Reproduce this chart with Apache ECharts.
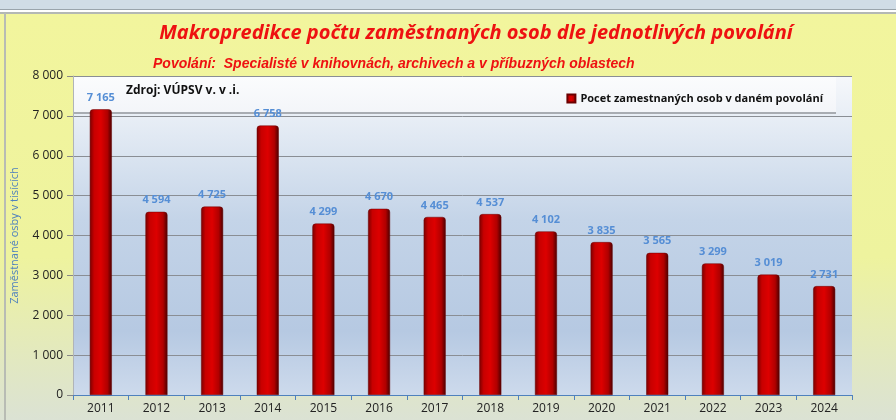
<!DOCTYPE html>
<html>
<head>
<meta charset="utf-8">
<script src="https://cdn.jsdelivr.net/npm/echarts@6/dist/echarts.min.js"></script>
<style>
html,body{margin:0;padding:0;}
#main{width:896px;height:420px;}
</style>
</head>
<body>
<div id="main"></div>
<script>
var years = ['2011','2012','2013','2014','2015','2016','2017','2018','2019','2020','2021','2022','2023','2024'];
var counts = [7165,4594,4725,6758,4299,4670,4465,4537,4102,3835,3565,3299,3019,2731];
var seriesName = 'Pocet zamestnaných osob v daném povolání';

function fmt(v){
	return String(v).replace(/\B(?=(\d{3})+(?!\d))/g,' ');
}

var chart = echarts.init(document.getElementById('main'));
chart.setOption({
	backgroundColor: '#ffffff',
	graphic: [
		// top window strip
		{type:'rect', z:-10, shape:{x:0,y:0,width:896,height:9}, style:{fill:'#d0dce6'}},
		{type:'rect', z:-10, shape:{x:0,y:9,width:896,height:1}, style:{fill:'#9aa4ac'}},
		{type:'rect', z:-10, shape:{x:0,y:13,width:896,height:407},
			style:{fill:new echarts.graphic.LinearGradient(0,0,0,1,[
				{offset:0,color:'#f2f59d'},{offset:0.6,color:'#eef39e'},{offset:1,color:'#dbe2d4'}])}},
		{type:'rect', z:-10, shape:{x:0,y:12,width:896,height:2}, style:{fill:'#b4b8b4'}},
		{type:'rect', z:-10, shape:{x:4,y:13,width:2,height:407}, style:{fill:'#b8bcb4'}},
		// legend panel
		{type:'rect', z:1, shape:{x:74,y:77,width:762,height:36},
			style:{fill:new echarts.graphic.LinearGradient(0,0,0,1,[
				{offset:0,color:'#fbfcfd'},{offset:1,color:'#f3f5f9'}])}},
		{type:'rect', z:1, shape:{x:74,y:112,width:762,height:2}, style:{fill:'#a8acb2'}},
		{type:'text', z:5, left:126, top:85,
			style:{text:'Zdroj: VÚPSV v. v .i.', fill:'#111', font:'bold 12px "Open Sans", sans-serif'}}
	],
	title: [{
		text: 'Makropredikce počtu zaměstnaných osob dle jednotlivých povolání',
		left: 471, top: 18, textAlign: 'center',
		textStyle: {color:'#ee1111', fontStyle:'italic', fontWeight:'bold', fontSize:20, fontFamily:'"Open Sans", sans-serif'}
	},{
		text: 'Povolání:  Specialisté v knihovnách, archivech a v příbuzných oblastech',
		left: 148, top: 52,
		textStyle: {color:'#ee1111', fontStyle:'italic', fontWeight:'bold', fontSize:14, fontFamily:'"Liberation Sans Narrow", "Liberation Sans", sans-serif'}
	}],
	legend: {
		data: [seriesName],
		right: 68, top: 88,
		itemWidth: 8, itemHeight: 8, itemGap: 4,
		icon: 'rect',
		textStyle: {color:'#111', fontSize:11, fontWeight:'bold', fontFamily:'"Open Sans", sans-serif'},
		z: 5
	},
	grid: {
		left: 73, right: 44, top: 76, bottom: 25,
		show: true, borderWidth: 0,
		backgroundColor: new echarts.graphic.LinearGradient(0,0,0,1,[
			{offset:0,color:'#f6f8fb'},{offset:0.45,color:'#c4d4e8'},{offset:0.8,color:'#b6c9e2'},{offset:1,color:'#cddaec'}])
	},
	xAxis: {
		type: 'category',
		data: years,
		axisLine: {lineStyle:{color:'#4f81bd', width:1}},
		axisTick: {show:true, length:5, lineStyle:{color:'#4f81bd'}},
		axisLabel: {color:'#222', fontSize:12, margin:8, fontFamily:'"Open Sans", sans-serif'}
	},
	yAxis: {
		type: 'value',
		min: 0, max: 8000, interval: 1000,
		name: 'Zaměstnané osby v tisících',
		nameLocation: 'middle', nameGap: 53, nameRotate: 90,
		nameTextStyle: {color:'#4f81bd', fontSize:11, fontFamily:'"Open Sans", sans-serif'},
		axisLine: {show:true, lineStyle:{color:'#b0b4b8'}},
		axisTick: {show:true, length:6, lineStyle:{color:'#888'}},
		splitLine: {lineStyle:{color:'#8a8e94', width:1}},
		axisLabel: {color:'#222', fontSize:12, margin:10, fontFamily:'"Open Sans", sans-serif', formatter: fmt}
	},
	series: [{
		name: seriesName,
		type: 'bar',
		data: counts,
		barWidth: 22,
		z: 3,
		itemStyle: {
			color: new echarts.graphic.LinearGradient(0,0,1,0,[
				{offset:0,color:'#7a0000'},{offset:0.2,color:'#c80000'},{offset:0.5,color:'#dd0000'},
				{offset:0.8,color:'#b00000'},{offset:1,color:'#4a0000'}]),
			borderColor: '#6a0000', borderWidth: 0.5,
			borderRadius: [3,3,0,0]
		},
		label: {
			show: true, position: 'top', distance: 6,
			color: '#558ed5', fontSize: 11, fontWeight: 'bold', fontFamily:'"Open Sans", sans-serif',
			formatter: function(p){ return fmt(p.value); }
		}
	}]
});
</script>
</body>
</html>
